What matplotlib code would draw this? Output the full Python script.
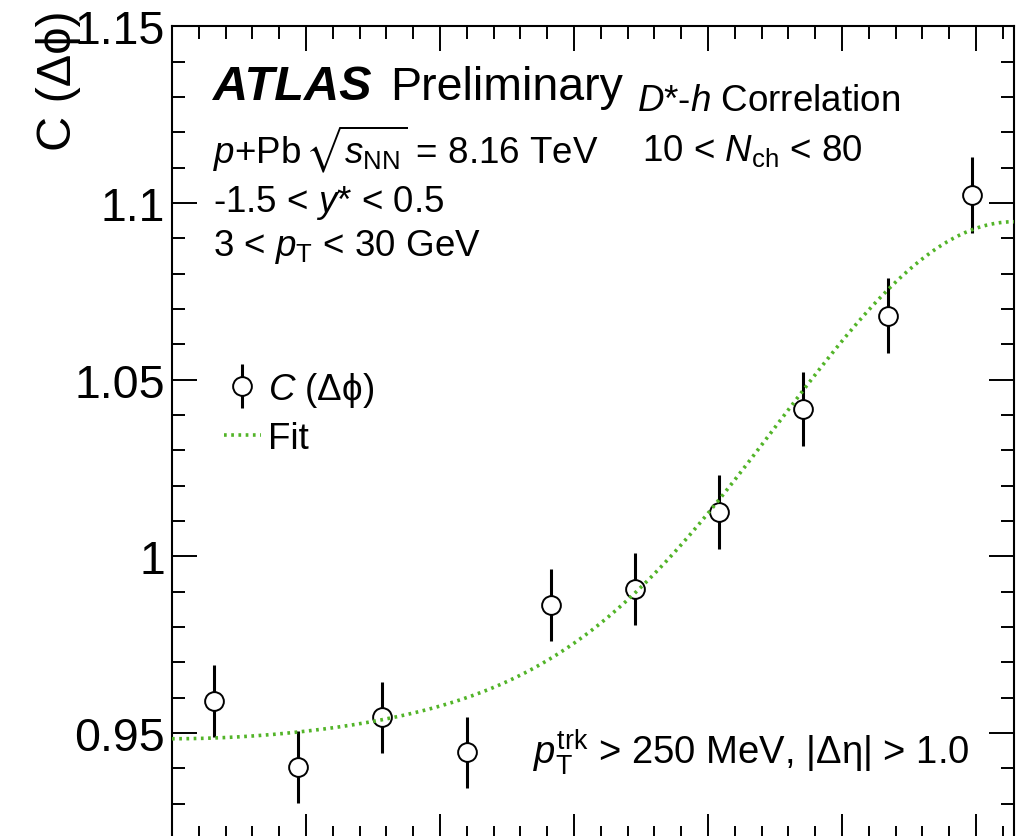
import numpy as np
import matplotlib
matplotlib.use("Agg")
import matplotlib.pyplot as plt
from matplotlib.ticker import MultipleLocator, FuncFormatter
from matplotlib.legend_handler import HandlerErrorbar
from matplotlib.container import ErrorbarContainer

plt.rcParams['font.family'] = ['Liberation Sans', 'DejaVu Sans']
plt.rcParams['mathtext.fontset'] = 'custom'
plt.rcParams['mathtext.rm'] = 'Liberation Sans'
plt.rcParams['mathtext.it'] = 'Liberation Sans:italic'
plt.rcParams['mathtext.bf'] = 'Liberation Sans:bold'
plt.rcParams['mathtext.sf'] = 'Liberation Sans'
plt.rcParams['mathtext.fallback'] = 'stixsans'

# Delta-phi bin centres (10 bins over [0, pi])
dphi = [0.157, 0.471, 0.785, 1.100, 1.414, 1.728, 2.042, 2.356, 2.670, 2.985]
# Correlation function and statistical uncertainties
corr = [0.9591, 0.9404, 0.9544, 0.9445, 0.9863, 0.9907, 1.0125, 1.0417, 1.0681, 1.1023]
corr_err = [0.0102, 0.0101, 0.0101, 0.0101, 0.0102, 0.0102, 0.0104, 0.0105, 0.0106, 0.0107]
# Fourier fit: a0 + a1 cos(dphi) + a2 cos(2 dphi) + a3 cos(3 dphi)
fit_coeffs = [1.00045, -0.06958, 0.02108, -0.00358]

W, H = 1029, 837
fig = plt.figure(figsize=(W / 100, H / 100), dpi=100)
ax = fig.add_axes([172 / W, (H - 840) / H, 842 / W, 812.7 / H])

def px(x, y):
    return x / W, 1 - y / H

fit_color = '#52b428'
eb = ax.errorbar(dphi, corr, yerr=corr_err, fmt='o', color='black',
                 markerfacecolor='white', markeredgecolor='black',
                 markersize=13.5, markeredgewidth=1.4, elinewidth=2.2,
                 capsize=0, zorder=3)

x_fit = np.linspace(0, np.pi, 400)
y_fit = sum(a * np.cos(n * x_fit) for n, a in enumerate(fit_coeffs))
fit_line, = ax.plot(x_fit, y_fit, color=fit_color, lw=2.6,
                    linestyle=(0, (0.75, 1.25)), zorder=4)

ax.set_xlim(0, np.pi)
ax.set_ylim(0.92, 1.15)
ax.xaxis.set_major_locator(MultipleLocator(0.5))
ax.xaxis.set_minor_locator(MultipleLocator(0.1))
ax.yaxis.set_major_locator(MultipleLocator(0.05))
ax.yaxis.set_minor_locator(MultipleLocator(0.01))
ax.yaxis.set_major_formatter(FuncFormatter(lambda v, p: f"{v:g}"))
ax.tick_params(which='both', direction='in', top=True, right=True,
               labelbottom=False, width=1.4, labelsize=33.5, pad=5)
ax.tick_params(which='major', length=18)
ax.tick_params(which='minor', length=9.5)
for s in ax.spines.values():
    s.set_linewidth(1.5)

ax.set_ylabel('C (Δϕ)', fontsize=35, loc='top')
ax.yaxis.set_label_coords(-0.108, 1.021)

txt = 26.5
fig.text(*px(213, 100), 'ATLAS', fontsize=35, weight='bold', style='italic', va='baseline')
fig.text(*px(390, 100), 'Preliminary', fontsize=33.5, va='baseline')
fig.text(*px(637, 111), '$D$*-$h$ Correlation', fontsize=txt, va='baseline')
fig.text(*px(213, 163), '$p$+Pb$\\,\\sqrt{s_{\\mathrm{NN}}}$ = 8.16 TeV', fontsize=txt, va='baseline')
fig.text(*px(642, 161), '10 < $N_{\\mathrm{ch}}$ < 80', fontsize=txt, va='baseline')
fig.text(*px(213, 212), '-1.5 < $y$* < 0.5', fontsize=txt, va='baseline')
fig.text(*px(213, 256), '3 < $p_{\\mathrm{T}}$ < 30 GeV', fontsize=txt, va='baseline')
fig.text(*px(533, 764), '$p_{\\mathrm{T}}^{\\mathrm{trk}}$ > 250 MeV, |Δη| > 1.0',
         fontsize=27.5, va='baseline')

ax.legend([eb, fit_line], ['$C$ (Δϕ)', 'Fit'], loc='upper left',
          bbox_to_anchor=px(224, 371), bbox_transform=fig.transFigure,
          frameon=False, fontsize=txt, handlelength=1.0, handletextpad=0.2,
          labelspacing=0.32, borderpad=0, borderaxespad=0,
          handler_map={ErrorbarContainer: HandlerErrorbar(yerr_size=0.6)})

fig.savefig('out.png', dpi=100)
